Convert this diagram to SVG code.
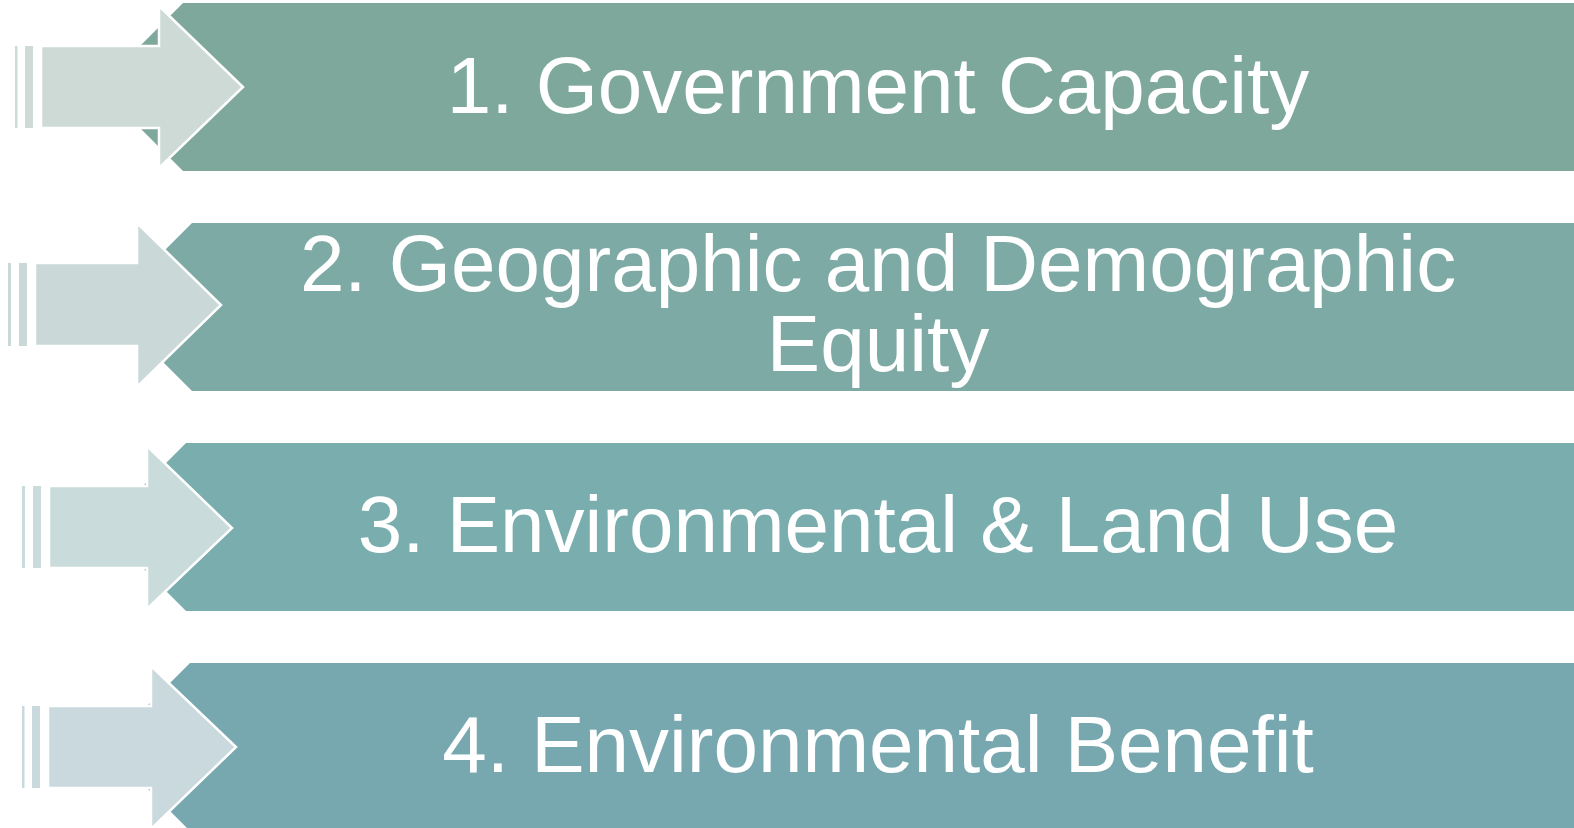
<svg xmlns="http://www.w3.org/2000/svg" width="1574" height="828" viewBox="0 0 1574 828">
<style>
.lbl{font-family:"Liberation Sans",Arial,sans-serif;font-size:80px;fill:#ffffff;text-anchor:middle}
.arr{stroke:#ffffff;stroke-width:2.5;stroke-linejoin:miter}
</style>
<rect x="0" y="0" width="1574" height="828" fill="#ffffff"/>
<g id="node1">
<polygon points="183,3 1574,3 1574,171 183,171 99,87" fill="#7EA89B"/>
<rect x="15" y="46" width="2.5" height="82" fill="#CDDAD6"/>
<rect x="25" y="46" width="8" height="82" fill="#CDDAD6"/>
<polygon class="arr" points="41,46 159,46 159,6 243,87 159,168 159,128 41,128" fill="#CDDAD6"/>
<text class="lbl" x="878" y="113">1. Government Capacity</text>
</g>
<g id="node2">
<polygon points="192,223 1574,223 1574,391 192,391 108,307" fill="#7DAAA5"/>
<rect x="8" y="263" width="3" height="83" fill="#CAD9D8"/>
<rect x="19" y="263" width="8" height="83" fill="#CAD9D8"/>
<polygon class="arr" points="35,263 137,263 137,223 221,305 137,387 137,346 35,346" fill="#CAD9D8"/>
<text class="lbl" x="878" y="291">2. Geographic and Demographic</text>
<text class="lbl" x="878" y="371">Equity</text>
</g>
<g id="node3">
<polygon points="186,443 1574,443 1574,611 186,611 102,527" fill="#7AADAD"/>
<rect x="22" y="486" width="3" height="82" fill="#CADBDB"/>
<rect x="33" y="486" width="8" height="82" fill="#CADBDB"/>
<polygon class="arr" points="49,486 147,486 147,446 232,528 147,609 147,568 49,568" fill="#CADBDB"/>
<text class="lbl" x="878" y="552">3. Environmental &amp; Land Use</text>
</g>
<g id="node4">
<polygon points="190,663 1574,663 1574,831 190,831 106,747" fill="#77A8AF"/>
<rect x="22" y="706" width="2.5" height="82" fill="#C9D9DD"/>
<rect x="32" y="706" width="8" height="82" fill="#C9D9DD"/>
<polygon class="arr" points="48,706 151,706 151,666 236,747 151,829 151,788 48,788" fill="#C9D9DD"/>
<text class="lbl" x="878" y="772">4. Environmental Benefit</text>
</g>
<g id="connectors"></g>
</svg>
